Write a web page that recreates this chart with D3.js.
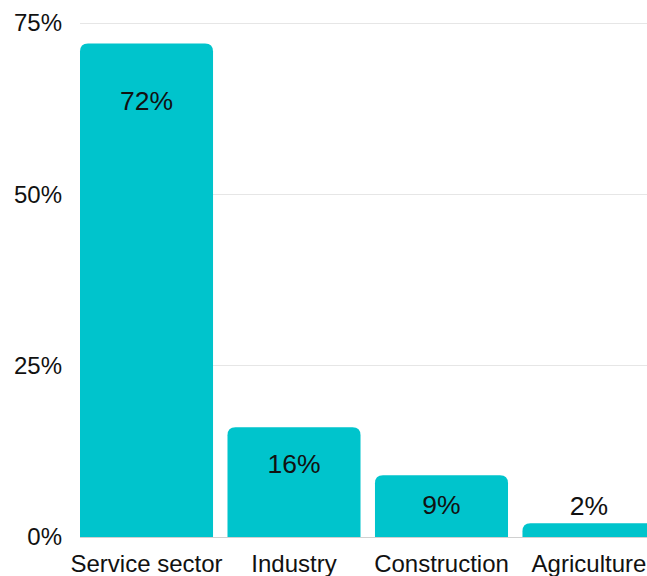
<!DOCTYPE html>
<html><head><meta charset="utf-8">
<script src="https://cdn.jsdelivr.net/npm/d3@7"></script>
<style>html,body{margin:0;padding:0;background:#fff;overflow:hidden}</style>
</head><body>
<svg id="c" width="647" height="576"></svg>
<script>
const categories = ["Service sector", "Industry", "Construction", "Agriculture"];
const values = [72, 16, 9, 2];
const labels = ["72%", "16%", "9%", "2%"];
const yTicks = [0, 25, 50, 75];
const yTickLabels = ["0%", "25%", "50%", "75%"];

const svg = d3.select("#c");
const font = "'Liberation Sans', Arial, sans-serif";
const x = d3.scaleBand().domain(categories).range([80, 655.5]).paddingInner(0.098).paddingOuter(0);
const y = d3.scaleLinear().domain([0, 75]).range([537, 23]);

// grid
svg.append("g").selectAll("line").data(yTicks.slice(1)).join("line")
  .attr("x1", 80).attr("x2", 647).attr("y1", d => y(d)).attr("y2", d => y(d))
  .attr("stroke", "#e6e6e6").attr("stroke-width", 1).attr("shape-rendering", "crispEdges");

// y tick labels
svg.append("g").selectAll("text").data(yTicks).join("text")
  .attr("x", 62).attr("y", d => y(d)).attr("dy", "0.35em")
  .attr("text-anchor", "end").attr("font-family", font).attr("font-size", 24).attr("fill", "#111")
  .text((d, i) => yTickLabels[i]);

// bars with rounded top corners
const r = 8;
function barPath(x0, w, yt, yb) {
  const rr = Math.min(r, (yb - yt), w / 2);
  return `M${x0},${yb}V${yt + rr}Q${x0},${yt} ${x0 + rr},${yt}H${x0 + w - rr}Q${x0 + w},${yt} ${x0 + w},${yt + rr}V${yb}Z`;
}
svg.append("g").selectAll("path").data(values).join("path")
  .attr("d", (d, i) => barPath(x(categories[i]), x.bandwidth(), y(d), y(0)))
  .attr("fill", "#00C4CC");

// baseline
svg.append("line").attr("x1", 80).attr("x2", 647).attr("y1", y(0) + 0.5).attr("y2", y(0) + 0.5)
  .attr("stroke", "#d0d0d0").attr("stroke-width", 1);

// value labels
svg.append("g").selectAll("text").data(values).join("text")
  .attr("x", (d, i) => x(categories[i]) + x.bandwidth() / 2)
  .attr("y", d => {
    const h = y(0) - y(d);
    if (h < 40) return y(d) - 18;
    return y(d) + 13.5 * Math.log(h) - 26.7;
  })
  .attr("dy", "0.35em").attr("text-anchor", "middle")
  .attr("font-family", font).attr("font-size", 26.5).attr("fill", "#111")
  .text((d, i) => labels[i]);

// category labels
svg.append("g").selectAll("text").data(categories).join("text")
  .attr("x", d => x(d) + x.bandwidth() / 2).attr("y", 572)
  .attr("text-anchor", "middle").attr("font-family", font).attr("font-size", 24).attr("fill", "#111")
  .text(d => d);
</script>
</body></html>
